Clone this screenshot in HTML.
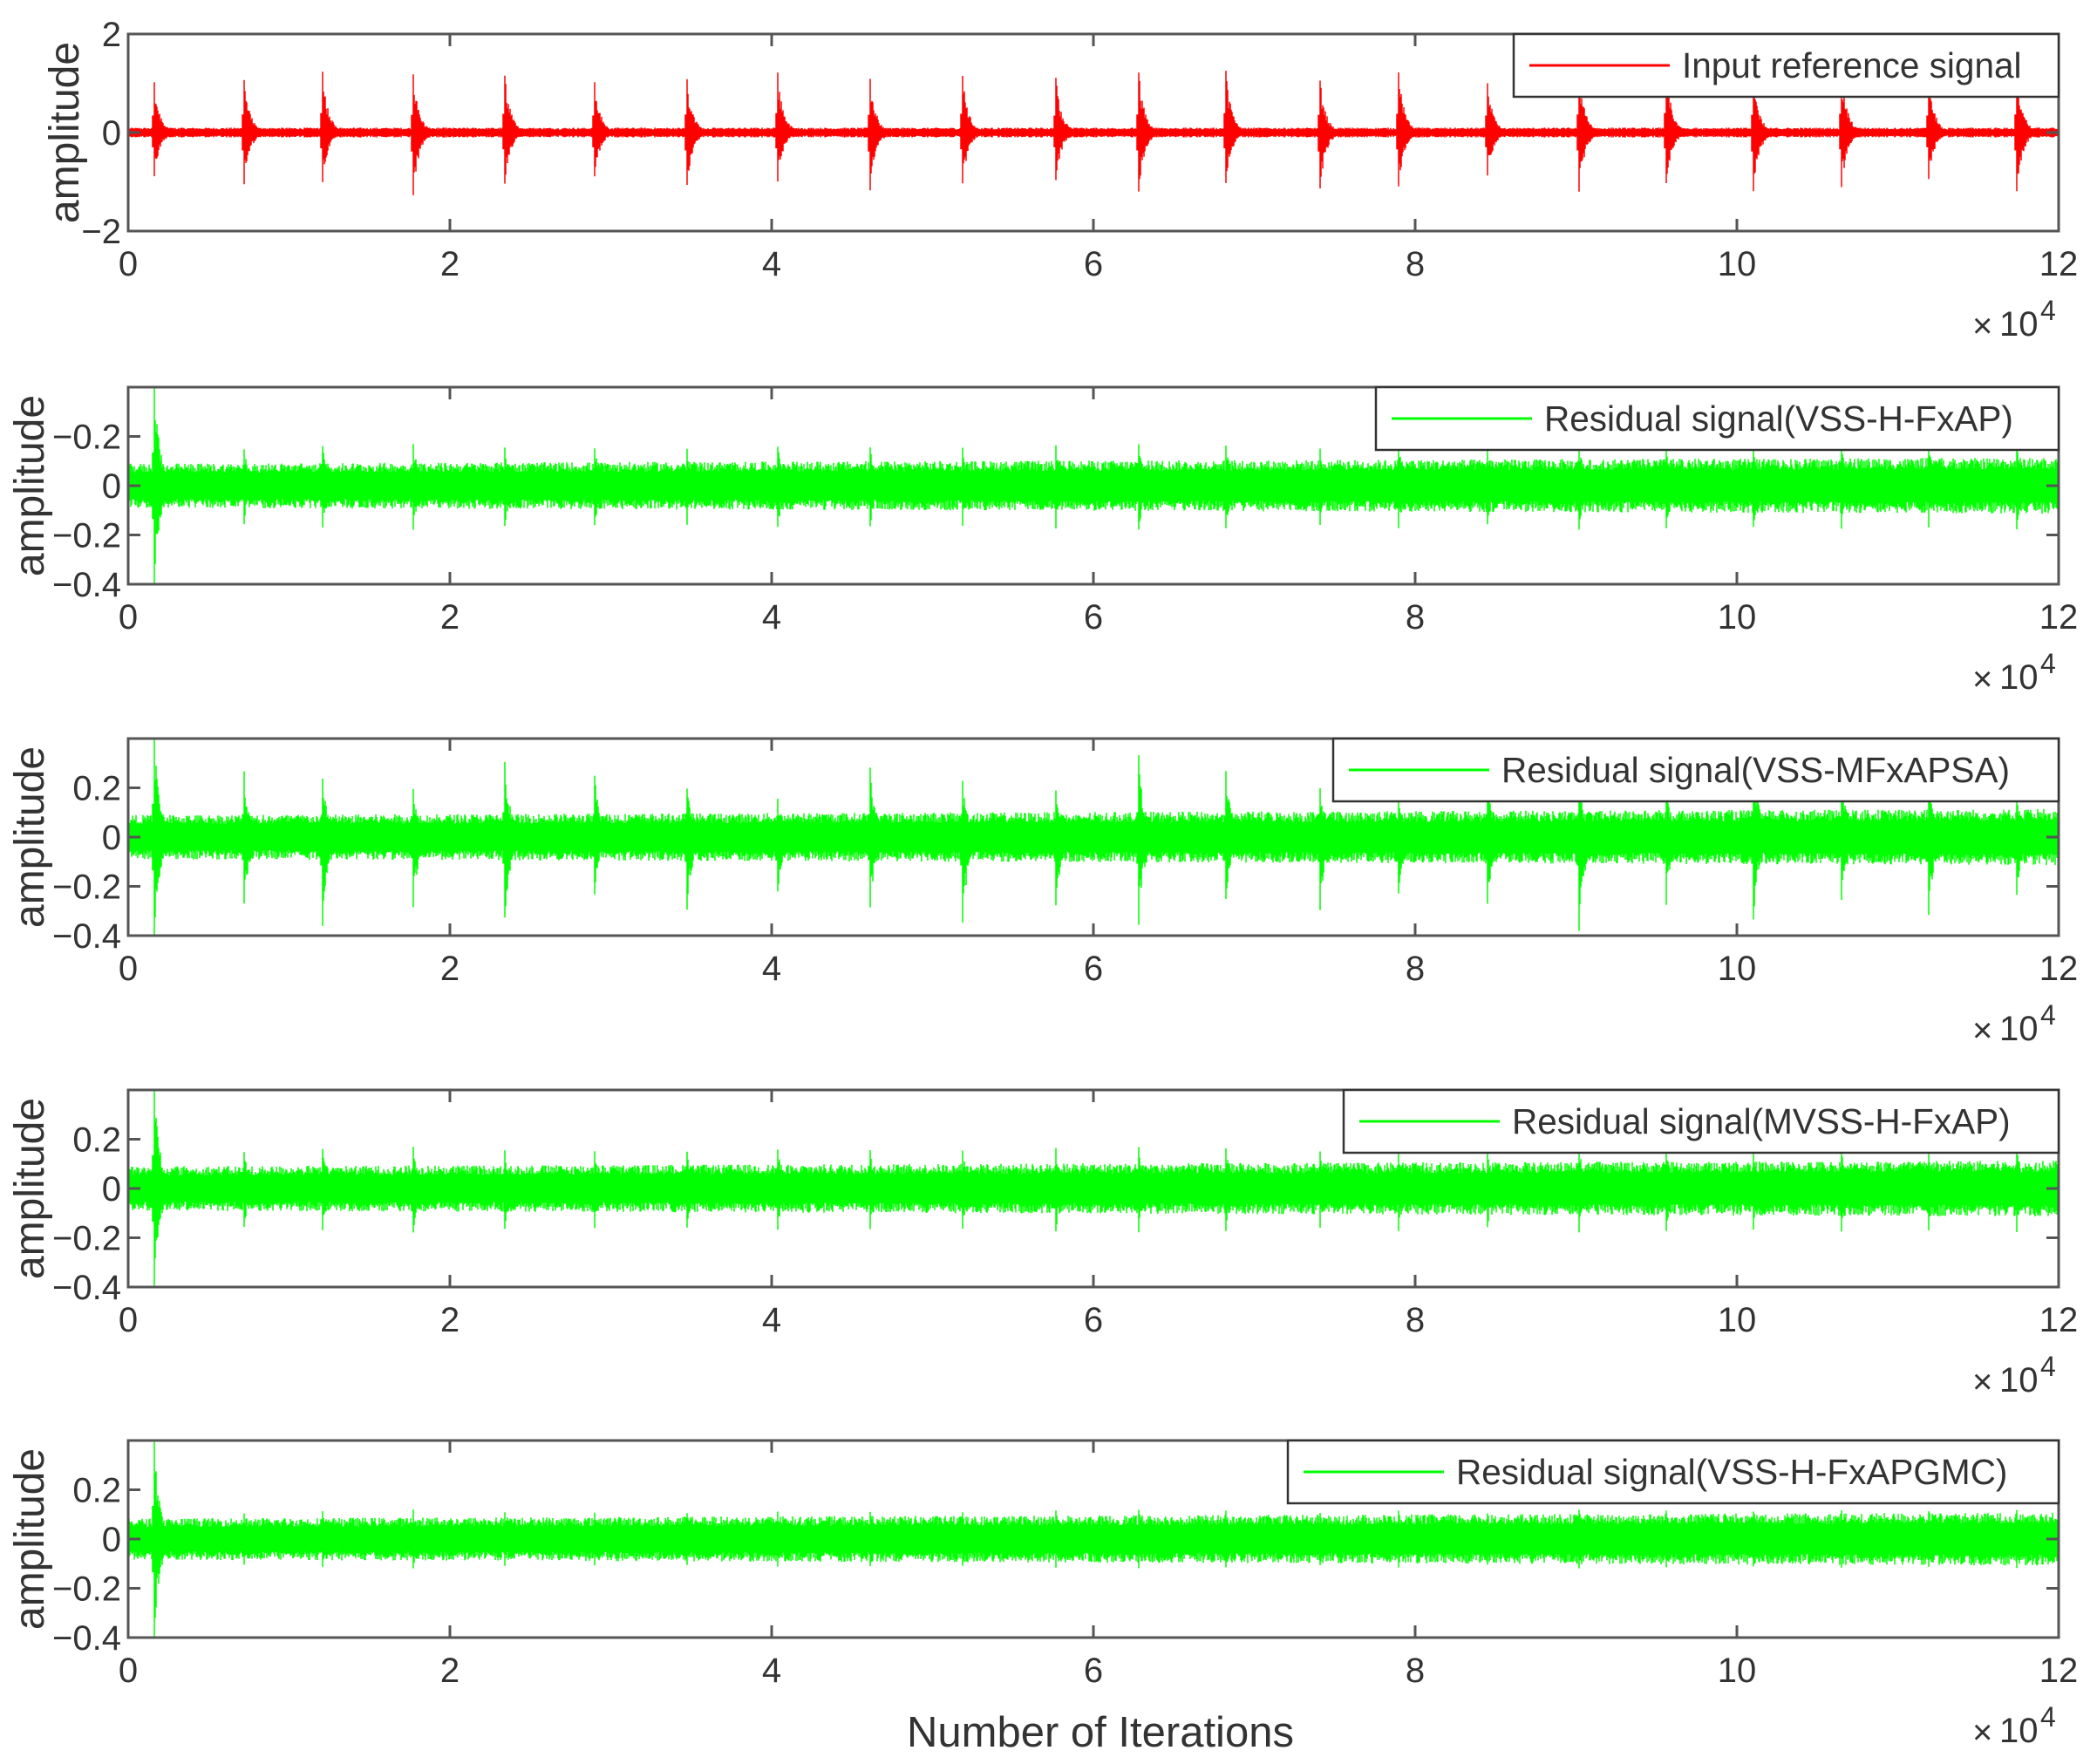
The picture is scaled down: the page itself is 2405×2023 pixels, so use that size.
<!DOCTYPE html>
<html><head><meta charset="utf-8"><style>
html,body{margin:0;padding:0;background:#fff;}
svg{display:block;}
text{font-family:"Liberation Sans",sans-serif;fill:#333;}
</style></head><body>
<svg id="s" width="2405" height="2023" xmlns="http://www.w3.org/2000/svg"></svg>
<script>
const S=document.getElementById('s');
const L=147,R=2361,W=R-L;
const tops=[39,444,847,1250,1652],H=226;
const spikesD=[115,182,241,309,377,444,513,581,650,719,789,851,916,986,1045,1111,1180,1245,1310,1376,1441,1507];
const spikes=spikesD.map(x=>L+(x-96)*1.535);
let seed=12345;function rnd(){seed=(seed*1103515245+12345)%2147483648;return seed/2147483648;}
const legends=[
 {x:1736,t:"Input reference signal",c:"#ff0000"},
 {x:1578,t:"Residual signal(VSS-H-FxAP)",c:"#00ff00"},
 {x:1529,t:"Residual signal(VSS-MFxAPSA)",c:"#00ff00"},
 {x:1541,t:"Residual signal(MVSS-H-FxAP)",c:"#00ff00"},
 {x:1477,t:"Residual signal(VSS-H-FxAPGMC)",c:"#00ff00"}];
let out='';
function yv(p,v,lo,hi){return tops[p]+H*(hi-v)/(hi-lo);}
for(let p=0;p<5;p++){
 const T=tops[p],B=T+H;
 const lo=p==0?-2:-0.4,hi=p==0?2:0.4;
 let d='';
 for(let x=L+1;x<R;x++){
  let a,b;
  if(p==0){a=0.06+0.04*rnd();b=-a;}
  else{let base=(p==4?0.07:0.075)+0.02*(x-L)/W;a=base*(0.7+0.5*rnd());b=-base*(0.7+0.5*rnd());}
  for(let k=0;k<spikes.length;k++){
   const dx=x-spikes[k];
   if(dx>=-2&&dx<30){
    const e=dx<0?0.3:Math.exp(-dx/7);
    let up,dn;
    if(p==0){up=1.15+0.2*((k*7)%5)/5;dn=-(1.0+0.35*((k*3)%5)/5);}
    else if(p==2){up=0.28*(0.6+0.7*((k*5)%7)/7);dn=-0.34*(0.7+0.5*((k*3)%7)/7);}
    else{up=0.17;dn=-0.18;if(p==4){up=0.12;dn=-0.12;}}
    if(k==0&&p>0){up=0.45;dn=-0.45;}
    a=Math.max(a,up*e*(dx<=1?1:0.6+0.4*rnd()));
    b=Math.min(b,dn*e*(dx<=1?1:0.6+0.4*rnd()));
   }
  }
  a=Math.min(a,hi);b=Math.max(b,lo);
  d+='M'+x+' '+yv(p,a,lo,hi).toFixed(1)+'V'+yv(p,b,lo,hi).toFixed(1);
 }
 const col=p==0?'#ff0000':'#00ff00';
 out+=`<path d="${d}" stroke="${col}" stroke-width="1.5" fill="none"/>`;
 out+=`<rect x="${L}" y="${T}" width="${W}" height="${H}" fill="none" stroke="#555" stroke-width="3"/>`;
 for(let i=0;i<=6;i++){
  const x=L+W*i/6;
  out+=`<line x1="${x}" y1="${T}" x2="${x}" y2="${T+14}" stroke="#555" stroke-width="3"/><line x1="${x}" y1="${B}" x2="${x}" y2="${B-14}" stroke="#555" stroke-width="3"/>`;
  out+=`<text x="${x}" y="${B+51}" font-size="40" text-anchor="middle">${i*2}</text>`;
 }
 let yt=p==0?[[2,'2'],[0,'0'],[-2,'\u22122']]:(p==1?[[0.2,'\u22120.2'],[0,'0'],[-0.2,'\u22120.2'],[-0.4,'\u22120.4']]:[[0.2,'0.2'],[0,'0'],[-0.2,'\u22120.2'],[-0.4,'\u22120.4']]);
 for(const [v,s] of yt){
  const y=yv(p,v,lo,hi);
  out+=`<line x1="${L}" y1="${y}" x2="${L+14}" y2="${y}" stroke="#555" stroke-width="3"/><line x1="${R}" y1="${y}" x2="${R-14}" y2="${y}" stroke="#555" stroke-width="3"/>`;
  out+=`<text x="${L-8}" y="${y+14}" font-size="40" text-anchor="end">${s}</text>`;
 }
 const lx=p==0?74:34;
 out+=`<text transform="translate(${lx+16},${T+H/2}) rotate(-90)" font-size="48" text-anchor="middle">amplitude</text>`;
 out+=`<text x="2262" y="${B+122}" font-size="40">\u00d7</text><text x="2293" y="${B+120}" font-size="40">10</text><text x="2340" y="${B+102}" font-size="32">4</text>`;
 const lg=legends[p];
 out+=`<rect x="${lg.x}" y="${T}" width="${R-lg.x}" height="72" fill="#fff" stroke="#333" stroke-width="2.5"/>`;
 out+=`<line x1="${lg.x+18}" y1="${T+36}" x2="${lg.x+179}" y2="${T+36}" stroke="${lg.c}" stroke-width="3"/>`;
 out+=`<text x="${lg.x+193}" y="${T+50}" font-size="40.5">${lg.t}</text>`;
}
out+=`<text x="1262" y="2003" font-size="49" text-anchor="middle">Number of Iterations</text>`;
S.innerHTML=out;
</script>
</body></html>
